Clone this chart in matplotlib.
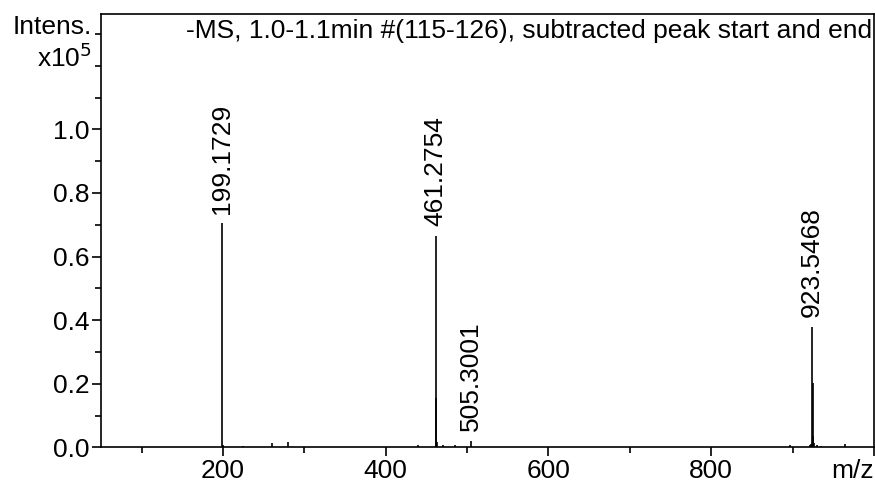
import matplotlib
matplotlib.use("Agg")
import matplotlib.pyplot as plt
from matplotlib.ticker import FixedLocator

plt.rcParams['font.family'] = ['Liberation Sans', 'DejaVu Sans']

# Peak list: m/z and intensity (x10^5)
mz = [199.1729, 200.17, 225.0, 260.0, 280.0, 440.0, 461.2754, 462.28, 463.28,
      470.0, 485.0, 505.3001, 897.0, 921.5, 922.5, 923.5468, 924.55, 925.55,
      926.55, 930.0, 935.0, 965.0]
intensity = [0.704, 0.008, 0.004, 0.012, 0.016, 0.008, 0.664, 0.154, 0.016,
             0.006, 0.008, 0.020, 0.006, 0.008, 0.010, 0.379, 0.202, 0.035,
             0.012, 0.006, 0.005, 0.009]

labelled = [199.1729, 461.2754, 505.3001, 923.5468]
labelled_int = [0.704, 0.664, 0.020, 0.379]

title = "-MS, 1.0-1.1min #(115-126), subtracted peak start and end"

FS = 19

fig = plt.figure(figsize=(8.75, 4.84), dpi=100)
ax = fig.add_axes([0.1154, 0.0758, 0.8834, 0.8952])

ax.vlines(mz, 0, intensity, color='black', linewidth=1.2)

ax.set_xlim(50, 1000)
ax.set_ylim(0, 1.3625)

for sp in ax.spines.values():
    sp.set_linewidth(1.2)

# x axis ticks
ax.xaxis.set_major_locator(FixedLocator([200, 400, 600, 800, 1000]))
ax.set_xticklabels(['200', '400', '600', '800', 'm/z'])
ax.get_xticklabels()[-1].set_horizontalalignment('right')
ax.xaxis.set_minor_locator(FixedLocator([100, 300, 500, 700, 900]))

# y axis ticks
ax.yaxis.set_major_locator(FixedLocator([0.0, 0.2, 0.4, 0.6, 0.8, 1.0]))
ax.set_yticklabels(['0.0', '0.2', '0.4', '0.6', '0.8', '1.0'])
ax.yaxis.set_minor_locator(FixedLocator([0.1, 0.3, 0.5, 0.7, 0.9, 1.1, 1.2, 1.3]))

ax.tick_params(axis='both', which='major', length=6.5, width=1.2,
               labelsize=FS, direction='out', pad=2)
ax.tick_params(axis='both', which='minor', length=4.5, width=1.2,
               direction='out')

# Axis caption along the top of the y axis
ax.text(-0.012, 1.30, 'Intens.', transform=ax.get_yaxis_transform(),
        ha='right', va='baseline', fontsize=FS)
ax.text(-0.012, 1.195, r'x10$^5$', transform=ax.get_yaxis_transform(),
        ha='right', va='baseline', fontsize=FS)

# Title inside the frame
ax.text(0.9975, 0.988, title, transform=ax.transAxes, ha='right', va='top',
        fontsize=FS)

# Peak annotations
for x, y in zip(labelled, labelled_int):
    ax.annotate(f"{x:.4f}", xy=(x, y), xytext=(0, 7), textcoords='offset points',
                rotation=90, ha='center', va='bottom', fontsize=FS)

fig.savefig('out.png', dpi=100)
